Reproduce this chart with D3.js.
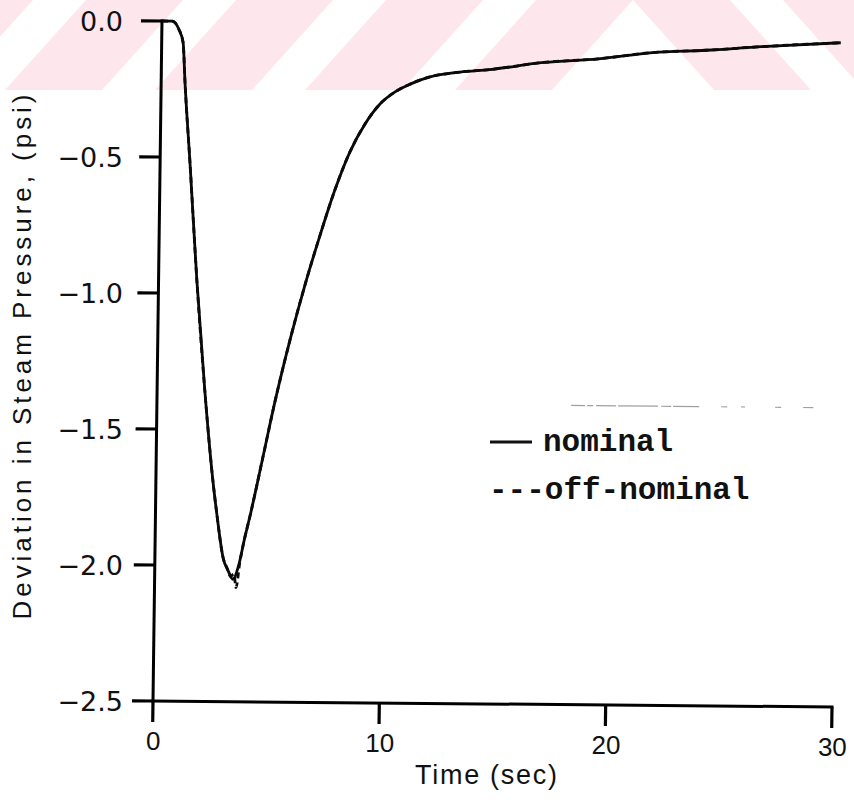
<!DOCTYPE html>
<html>
<head>
<meta charset="utf-8">
<script src="https://cdn.jsdelivr.net/npm/d3@7/dist/d3.min.js"></script>
<style>
  html, body { margin: 0; padding: 0; background: #ffffff; }
  svg { display: block; }
</style>
</head>
<body>
<svg id="chart" width="854" height="802"></svg>
<script>
// Steam pressure deviation after the disturbance, nominal vs off-nominal model
const timeNominal = [0, 0.45, 0.75, 0.95, 1.05, 1.32, 1.69, 2.1, 2.52, 2.71, 3.01, 3.25, 3.46, 3.7, 3.95,
  4.18, 4.68, 5.22, 5.84, 6.47, 7.11, 7.74, 8.38, 9.03, 9.68, 10.34, 11.0, 11.87, 13.2, 14.5, 16.9, 19.3, 21.7, 24.05, 26.5, 30];
const pressureNominal = [0, 0, -0.03, -0.08, -0.22, -0.52, -0.95, -1.35, -1.69, -1.81, -1.97, -2.02, -2.05, -2.0, -1.9,
  -1.816, -1.614, -1.393, -1.169, -0.966, -0.782, -0.615, -0.475, -0.372, -0.298, -0.253, -0.224, -0.197, -0.178, -0.168, -0.14, -0.125, -0.10, -0.09, -0.075, -0.058];

const timeOffNominal = [0, 0.45, 0.75, 0.95, 1.05, 1.32, 1.69, 2.1, 2.52, 2.71, 3.01, 3.2, 3.35, 3.5, 3.6, 3.75, 3.95,
  4.18, 4.68, 5.22, 5.84, 6.47, 7.11, 7.74, 8.38, 9.03, 9.68, 10.34, 11.0, 11.87, 13.2, 14.5, 16.9, 19.3, 21.7, 24.05, 26.5, 30];
const pressureOffNominal = [0, 0, -0.03, -0.08, -0.22, -0.52, -0.95, -1.35, -1.69, -1.81, -1.97, -2.01, -2.04, -2.03, -2.08, -1.99, -1.9,
  -1.816, -1.614, -1.393, -1.169, -0.966, -0.782, -0.615, -0.475, -0.372, -0.298, -0.253, -0.224, -0.197, -0.178, -0.168, -0.14, -0.125, -0.10, -0.09, -0.075, -0.058];

const seriesNames = ["nominal", "off-nominal"];
const xTickValues = [0, 10, 20, 30];
const xTickLabels = ["0", "10", "20", "30"];
const yTickValues = [0, -0.5, -1.0, -1.5, -2.0, -2.5];
const yTickLabels = ["0.0", "\u22120.5", "\u22121.0", "\u22121.5", "\u22122.0", "\u22122.5"];
const xTitle = "Time  (sec)";
const yTitle = "Deviation  in  Steam  Pressure,  (psi)";

const svg = d3.select("#chart");
const ink = "#000";

// faint pink banner across the top: slanted stripes meeting in a peak
const bandH = 90, run = 81, pinkW = 97, period = 150, apex = 633;
const band = svg.append("g");
svg.append("clipPath").attr("id", "bandClip")
  .append("rect").attr("x", 0).attr("y", 0).attr("width", 854).attr("height", bandH);
band.attr("clip-path", "url(#bandClip)");
const stripes = [];
for (let k = 0; k < 6; k++) {          // rising stripes, left of the peak
  const r = apex - k * period, l = r - pinkW;
  stripes.push([[l, 0], [r, 0], [r - run, bandH], [l - run, bandH]]);
}
for (let k = 0; k < 2; k++) {          // falling stripes, right of the peak
  const l = apex + k * period, r = l + pinkW;
  stripes.push([[l, 0], [r, 0], [r + run, bandH], [l + run, bandH]]);
}
band.selectAll("polygon").data(stripes).join("polygon")
  .attr("points", d => d.map(p => p.join(",")).join(" "))
  .attr("fill", "#fde7ec");

// scales in plot units, then a slight skew of the whole frame onto the page
const x = d3.scaleLinear().domain([0, 30]).range([0, 679]);
const y = d3.scaleLinear().domain([-2.5, 0]).range([0, -680]);
const skew = { a: 1, b: 0.0088, c: -0.0132, d: 1, e: 153, f: 701 };
const toScreen = (px, py) => [skew.a * px + skew.c * py + skew.e, skew.b * px + skew.d * py + skew.f];
const pt = (t, v) => toScreen(x(t), y(v));

const tickLen = 21;
// a filled bar between two plot-space points, drawn on the skewed frame
const bar = (x0, y0, x1, y1, half) => {
  const c = y0 === y1
    ? [[x0, y0 - half], [x1, y0 - half], [x1, y0 + half], [x0, y0 + half]]
    : [[x0 - half, y0], [x0 + half, y0], [x0 + half, y1], [x0 - half, y1]];
  return "M" + c.map(p => toScreen(p[0], p[1]).join(",")).join("L") + "Z";
};
const axes = svg.append("g").attr("fill", ink);
axes.append("path").attr("d", bar(x(0), y(0) - 1.5, x(0), y(-2.5) + 1.5, 1.5));
axes.append("path").attr("d", bar(x(0) - 1.5, y(-2.5), x(30) + 1.5, y(-2.5), 1.5));
axes.selectAll(".ytick").data(yTickValues).join("path").attr("class", "ytick")
  .attr("d", d => bar(x(0) - tickLen, y(d), x(0), y(d), 1.6));
axes.selectAll(".xtick").data(xTickValues).join("path").attr("class", "xtick")
  .attr("d", d => bar(x(d), y(-2.5), x(d), y(-2.5) + tickLen, 1.6));

const line = d3.line()
  .x(d => pt(d[0], d[1])[0])
  .y(d => pt(d[0], d[1])[1])
  .curve(d3.curveMonotoneX);

const nominal = timeNominal.map((t, i) => [t, pressureNominal[i]]);
const offNominal = timeOffNominal.map((t, i) => [t, pressureOffNominal[i]]);

svg.append("path").datum(nominal)
  .attr("d", line).attr("fill", "none")
  .attr("stroke", "#0a0a0a").attr("stroke-width", 2.8).attr("stroke-linejoin", "round");
svg.append("path").datum(offNominal)
  .attr("d", line).attr("fill", "none")
  .attr("stroke", "#0a0a0a").attr("stroke-width", 2.8).attr("stroke-dasharray", "6,4");

// faint broken rule above the legend
svg.append("path")
  .attr("d", "M" + pt(18.3, -1.40).join(",") + "L" + pt(29.0, -1.40).join(","))
  .attr("stroke", "#a0a0a0").attr("stroke-width", 1.2).attr("fill", "none")
  .attr("stroke-dasharray", "14,2,6,3,20,2,40,3,10,2,26,22,6,14,4,30,6,22");

// tick labels
const yLab = svg.append("g")
  .attr("font-family", "'DejaVu Sans', sans-serif").attr("font-size", 27).attr("fill", "#111");
yLab.selectAll("text").data(yTickValues).join("text")
  .attr("x", 123)
  .attr("y", d => toScreen(0, y(d))[1])
  .attr("dy", "0.36em")
  .attr("text-anchor", "end")
  .text((d, i) => yTickLabels[i]);

const xLab = svg.append("g")
  .attr("font-family", "'Liberation Sans', Arial, sans-serif").attr("font-size", 26).attr("fill", "#111");
xLab.selectAll("text").data(xTickValues).join("text")
  .attr("x", d => toScreen(x(d), 49)[0] + 1)
  .attr("y", d => toScreen(x(d), 49)[1])
  .attr("text-anchor", "middle")
  .text((d, i) => xTickLabels[i]);

// axis titles
svg.append("text")
  .attr("x", 486).attr("y", 784)
  .attr("text-anchor", "middle")
  .attr("font-family", "'Liberation Sans', Arial, sans-serif").attr("font-size", 27).attr("fill", "#111")
  .attr("textLength", 142).attr("lengthAdjust", "spacing")
  .text(xTitle);
svg.append("text")
  .attr("transform", "translate(31,357) rotate(-90)")
  .attr("text-anchor", "middle")
  .attr("font-family", "'Liberation Sans', Arial, sans-serif").attr("font-size", 26).attr("fill", "#111")
  .attr("textLength", 525).attr("lengthAdjust", "spacing")
  .text(yTitle);

// legend
const legend = svg.append("g")
  .attr("font-family", "'Liberation Mono', 'Courier New', monospace").attr("font-weight", "bold")
  .attr("font-size", 31).attr("fill", "#111");
legend.append("line")
  .attr("x1", 490).attr("x2", 532).attr("y1", 442).attr("y2", 442)
  .attr("stroke", "#111").attr("stroke-width", 2.8);
legend.append("text")
  .attr("x", 543).attr("y", 451)
  .text(seriesNames[0]);
legend.append("text")
  .attr("x", 489).attr("y", 499)
  .text("---" + seriesNames[1]);
</script>
</body>
</html>
